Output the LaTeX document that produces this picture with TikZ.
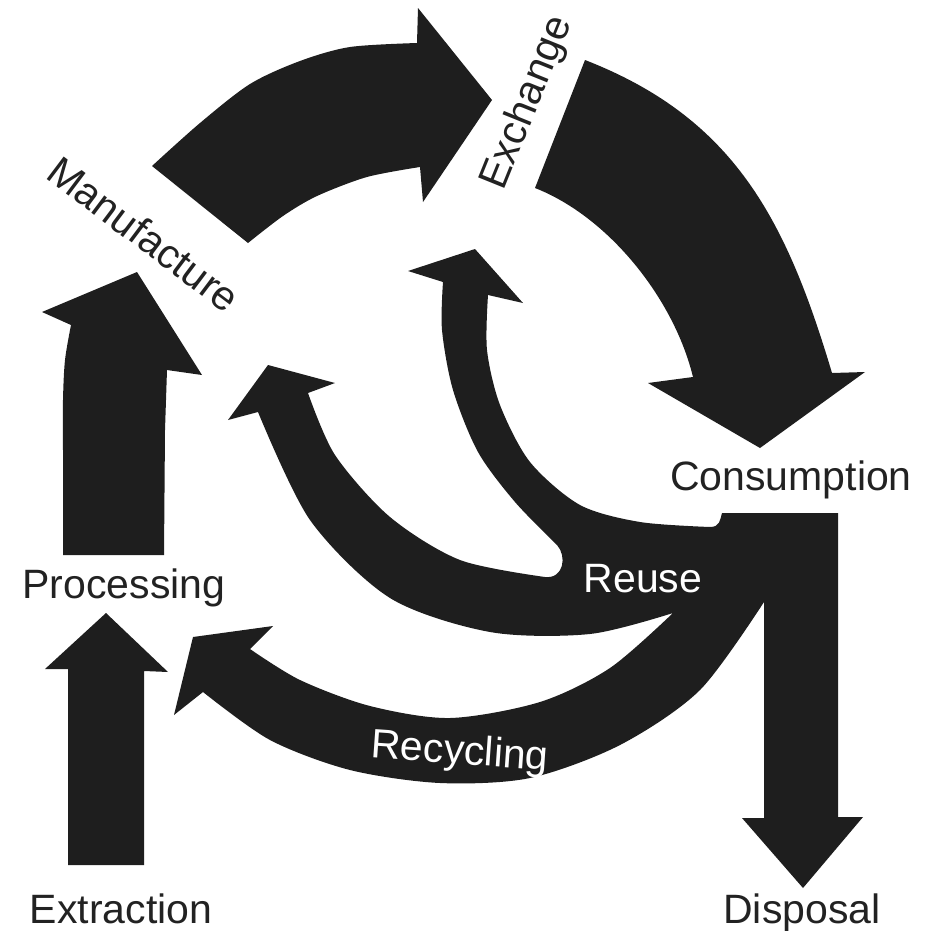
\documentclass[tikz,border=0pt]{standalone}
\usepackage{fontspec}
\setmainfont{Liberation Sans}
\definecolor{inkfill}{HTML}{1E1E1E}
\definecolor{inktext}{HTML}{222222}
\tikzset{
  band/.style={fill=inkfill, draw=none},
  lbl/.style={font=\fontsize{41}{48}\selectfont, text=inktext, inner sep=0pt},
  rlbl/.style={lbl, text=white}
}
\begin{document}
\begin{tikzpicture}[x=1pt, y=-1pt]
\useasboundingbox (0,0) rectangle (935,930);

% Extraction -> Processing
\fill[band] (68,865) -- (144,865) -- (144,671) -- (168,672) -- (106,613)
  -- (45,669) -- (68,669) -- cycle;

% Processing -> Manufacture
\fill[band] (63,555) -- (164,555) -- (165,430) -- (167,370) -- (202,375)
  -- (137,272) -- (42,312) -- (71,325)
  -- plot[smooth] coordinates {(71,325) (65,360) (63,400) (63,450)}
  -- cycle;

% Manufacture -> Exchange
\fill[band]
  plot[smooth] coordinates {(152,166) (200,123) (250,84) (300,61) (350,47) (417,43)}
  -- (418,8) -- (492,100) -- (423,202) -- (420,167)
  -- plot[smooth] coordinates {(420,167) (367,177) (317,196) (283,216) (248,243)}
  -- cycle;

% Exchange -> Consumption
\fill[band]
  (585,60) .. controls (734,118) and (786,219) .. (832,373)
  -- (865,372) -- (760,448) -- (648,383) -- (693,377)
  .. controls (674,299) and (609,217) .. (535,188)
  -- cycle;

% Consumption trunk: disposal, recycling and the two reuse loops
\fill[band]
  (722,513) -- (838,513) -- (838,817) -- (863,817) -- (803,888) -- (742,818)
  -- (764,818) -- (764,602)
  -- plot[smooth] coordinates {(764,602) (700,690) (620,745) (530,778)
       (440,783) (350,770) (270,740) (203,692)}
  -- (174,715) -- (193,637) -- (273,626) -- (250,649)
  -- plot[smooth] coordinates {(250,649) (300,680) (370,706) (450,718)
       (540,702) (610,668) (673,613)}
  -- plot[smooth] coordinates {(673,613) (590,634) (490,632) (390,598)
       (310,520) (258,412)}
  -- (228,420) -- (268,365) -- (335,383) -- (308,393)
  -- plot[smooth] coordinates {(308,393) (335,455) (390,517) (460,560) (545,577)}
  .. controls (564,579) and (567,556) .. (557,545)
  -- plot[smooth] coordinates {(557,545) (515,502) (478,452) (453,390)
       (442,330) (443,282)}
  -- (408,271) -- (475,249) -- (523,303) -- (488,295)
  -- plot[smooth] coordinates {(488,295) (487,350) (500,405) (530,462)
       (580,505) (640,522) (710,527)}
  .. controls (720,527) and (720,520) .. (722,513)
  -- cycle;

% Stage labels
\node[lbl, anchor=base] (consumption) at (791,490) {Consumption};
\node[lbl, anchor=base] (disposal) at (802,923) {Disposal};
\node[lbl, anchor=base] (extraction) at (121,923) {Extraction};
\node[lbl, anchor=base] (processing) at (124,598) {Processing};
\node[lbl, rotate=-37] (manufacture) at (144,234) {Manufacture};
\node[lbl, rotate=68] (exchange) at (528,103) {Exchange};

% Flow labels on the black bands
\node[rlbl, anchor=base] (reuse) at (643,592) {Reuse};
\node[rlbl, anchor=base, rotate=-4] (recycling) at (459,764) {Recycling};
\end{tikzpicture}
\end{document}
